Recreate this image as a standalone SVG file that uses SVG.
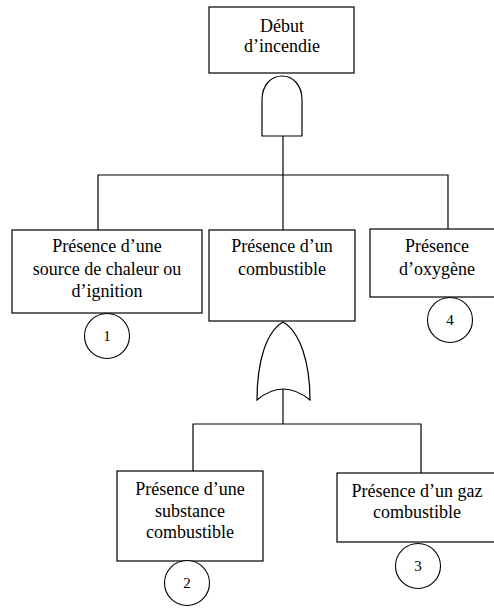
<svg xmlns="http://www.w3.org/2000/svg" width="494" height="608" viewBox="0 0 494 608">
  <style>
    .box { fill: #ffffff; stroke: #000000; stroke-width: 1.2; }
    .gate { fill: #ffffff; stroke: #000000; stroke-width: 1.2; }
    .wire { fill: none; stroke: #000000; stroke-width: 1.2; }
    .ring { fill: #ffffff; stroke: #000000; stroke-width: 1.1; }
    text { font-family: "Liberation Serif", "Times New Roman", serif; font-size: 18px; fill: #000000; text-anchor: middle; }
    .num { font-size: 15px; }
  </style>
  <rect width="494" height="608" fill="#ffffff"/>

  <!-- connectors -->
  <g id="connectors">
    <path class="wire" d="M283,136 L283,230"/>
    <path class="wire" d="M98,230 L98,175 L448,175 L448,229"/>
    <path class="wire" d="M283,389 L283,424"/>
    <path class="wire" d="M193,471 L193,424 L421,424 L421,473"/>
  </g>

  <!-- top event -->
  <g id="top-event">
    <rect class="box" x="209" y="7" width="145" height="66"/>
    <text x="282" y="32">Début</text>
    <text x="282" y="52">d’incendie</text>
  </g>

  <!-- AND gate -->
  <g id="and-gate">
    <path class="gate" d="M262,136 L262,100 C262,68 302,68 302,100 L302,136 Z"/>
  </g>

  <g id="heat-source">
    <rect class="box" x="12" y="230" width="190" height="83"/>
    <text x="107" y="252">Présence d’une</text>
    <text x="107" y="275">source de chaleur ou</text>
    <text x="107" y="297">d’ignition</text>
  </g>

  <g id="fuel">
    <rect class="box" x="209" y="230" width="146" height="91"/>
    <text x="282" y="252">Présence d’un</text>
    <text x="282" y="275">combustible</text>
  </g>

  <g id="oxygen">
    <rect class="box" x="370" y="229" width="130" height="68"/>
    <text x="437" y="252">Présence</text>
    <text x="437" y="275">d’oxygène</text>
  </g>

  <!-- OR gate -->
  <g id="or-gate">
    <path class="gate" d="M257,400 C257,362 266,332 283,322 C300,332 310,362 310,400 Q283,378 257,400 Z"/>
  </g>

  <g id="substance">
    <rect class="box" x="117" y="471" width="146" height="90"/>
    <text x="190" y="495">Présence d’une</text>
    <text x="190" y="517">substance</text>
    <text x="190" y="538">combustible</text>
  </g>

  <g id="gas">
    <rect class="box" x="337" y="473" width="163" height="69"/>
    <text x="417" y="497">Présence d’un gaz</text>
    <text x="417" y="518">combustible</text>
  </g>

  <!-- basic event markers -->
  <g id="event-1">
    <circle class="ring" cx="107" cy="336" r="22.5"/>
    <text class="num" x="107" y="341">1</text>
  </g>
  <g id="event-2">
    <circle class="ring" cx="187" cy="583" r="22.5"/>
    <text class="num" x="187" y="588">2</text>
  </g>
  <g id="event-3">
    <circle class="ring" cx="418" cy="566" r="22.5"/>
    <text class="num" x="418" y="571">3</text>
  </g>
  <g id="event-4">
    <circle class="ring" cx="450" cy="320" r="22.5"/>
    <text class="num" x="450" y="325">4</text>
  </g>
</svg>
